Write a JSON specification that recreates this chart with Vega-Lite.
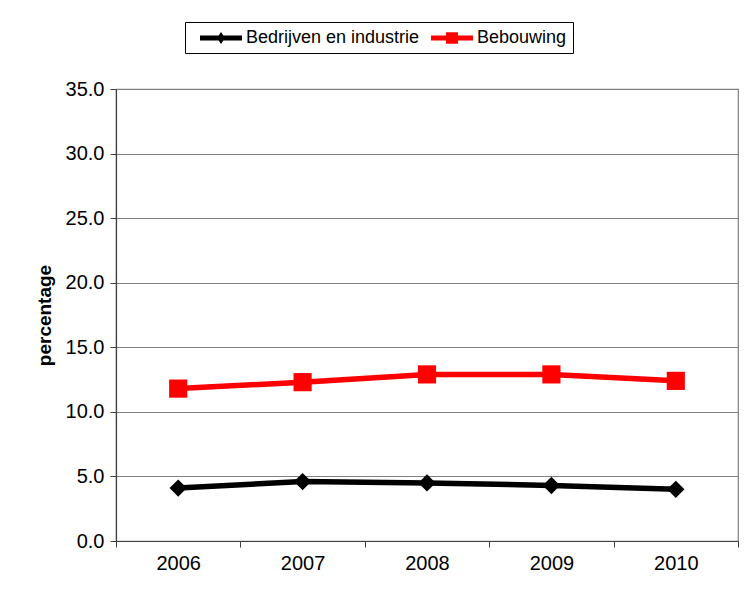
{
  "$schema": "https://vega.github.io/schema/vega-lite/v6.json",
  "autosize": {"type": "none"},
  "width": 622,
  "height": 452,
  "padding": {"left": 116, "top": 89, "right": 13, "bottom": 60},
  "background": "white",
  "config": {
    "font": "Liberation Sans",
    "view": {"stroke": "#808080", "strokeWidth": 1.2}
  },
  "data": {
    "values": [
      {"jaar": "2006", "reeks": "Bedrijven en industrie", "waarde": 4.1},
      {"jaar": "2007", "reeks": "Bedrijven en industrie", "waarde": 4.6},
      {"jaar": "2008", "reeks": "Bedrijven en industrie", "waarde": 4.5},
      {"jaar": "2009", "reeks": "Bedrijven en industrie", "waarde": 4.3},
      {"jaar": "2010", "reeks": "Bedrijven en industrie", "waarde": 4.0},
      {"jaar": "2006", "reeks": "Bebouwing", "waarde": 11.8},
      {"jaar": "2007", "reeks": "Bebouwing", "waarde": 12.3},
      {"jaar": "2008", "reeks": "Bebouwing", "waarde": 12.9},
      {"jaar": "2009", "reeks": "Bebouwing", "waarde": 12.9},
      {"jaar": "2010", "reeks": "Bebouwing", "waarde": 12.4}
    ]
  },
  "encoding": {
    "x": {
      "field": "jaar",
      "type": "ordinal",
      "scale": {"paddingInner": 0, "paddingOuter": 0},
      "axis": {
        "title": null,
        "labelAngle": 0,
        "labelFontSize": 20,
        "labelColor": "black",
        "labelPadding": 6,
        "tickBand": "extent",
        "tickSize": 6,
        "tickColor": "#404040",
        "domainColor": "#404040",
        "domainWidth": 1.2,
        "grid": false
      }
    },
    "y": {
      "field": "waarde",
      "type": "quantitative",
      "scale": {"domain": [0, 35], "nice": false},
      "axis": {
        "title": "percentage",
        "titleFontSize": 19,
        "titleFontWeight": "bold",
        "titleColor": "black",
        "titlePadding": 11,
        "values": [0, 5, 10, 15, 20, 25, 30, 35],
        "format": ".1f",
        "labelFontSize": 20,
        "labelColor": "black",
        "labelPadding": 6,
        "tickSize": 6,
        "tickColor": "#404040",
        "domainColor": "#404040",
        "domainWidth": 1.2,
        "gridColor": "#808080",
        "gridWidth": 1.2
      }
    },
    "color": {
      "field": "reeks",
      "type": "nominal",
      "scale": {"domain": ["Bedrijven en industrie", "Bebouwing"], "range": ["#000000", "#ff0000"]},
      "legend": {
        "title": null,
        "orient": "none",
        "direction": "horizontal",
        "legendX": 69,
        "legendY": -67,
        "strokeColor": "black",
        "padding": 6,
        "labelFontSize": 18,
        "labelColor": "black",
        "labelOffset": 4,
        "labelLimit": 400,
        "symbolSize": 400,
        "symbolOffset": 31,
        "symbolStrokeWidth": 0,
        "columnPadding": 2,
        "symbolType": {"expr": "datum.value === 'Bebouwing' ? 'M-3.2,-0.24H1V0.24H-3.2Z M-1.7,-0.58H-0.5V0.58H-1.7Z' : 'M-3.2,-0.26H1V0.26H-3.2Z M-1.1,-0.6L-0.7,0L-1.1,0.6L-1.5,0Z'"}
      }
    }
  },
  "layer": [
    {
      "mark": {"type": "line", "strokeWidth": 5.5},
      "encoding": {"detail": {"field": "reeks"}}
    },
    {
      "transform": [{"filter": "datum.reeks === 'Bedrijven en industrie'"}],
      "mark": {"type": "point", "filled": true, "opacity": 1, "size": 300, "shape": "diamond"}
    },
    {
      "transform": [{"filter": "datum.reeks === 'Bebouwing'"}],
      "mark": {"type": "point", "filled": true, "opacity": 1, "size": 330, "shape": "square"}
    }
  ]
}
